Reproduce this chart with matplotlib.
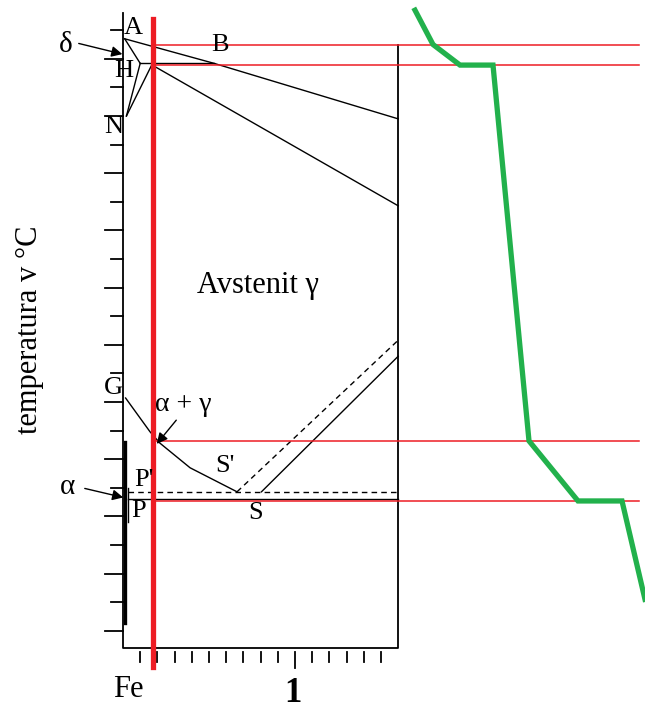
# Fe-C diagram (steel corner) with cooling curve
import matplotlib.pyplot as plt

plt.rcParams['font.family'] = ['Liberation Serif', 'DejaVu Serif']

# ------ phase diagram lines, x = wt% C, y = temperature [deg C] ------
liq_c = [0.01, 0.53, 1.6]            # A - B - (towards C)
liq_t = [1535, 1492, 1395]
ah_c = [0.01, 0.10]                   # A - H
ah_t = [1535, 1492]
hn_c = [0.10, 0.02]                   # H - N
hn_t = [1492, 1400]
jn_c = [0.17, 0.02]                   # J - N
jn_t = [1491, 1400]
hjb_c = [0.10, 0.53]                  # peritectic line
hjb_t = [1492, 1492]
je_c = [0.17, 1.6]                    # solidus J - E
je_t = [1489, 1243]
gs_c = [0.015, 0.157, 0.215, 0.39, 0.663]   # G - S'
gs_t = [907, 848, 828, 785, 743]
pk_dash_c = [0.03, 1.6]               # P' S' K (stable)
pk_dash_t = [743, 743]
pk_c = [0.03, 1.6]                    # P S K
pk_t = [731, 731]
se_c = [0.805, 1.6]                   # S - E
se_t = [743, 980]
se_dash_c = [0.663, 1.6]              # S' - E'
se_dash_t = [743, 1008]
alpha_c = [0.012, 0.012]              # ferrite region along axis
alpha_t = [830, 514]
pp_c = [0.03, 0.03]
pp_t = [750, 690]

# frame of the diagram
frame_c = [0.0, 0.0, 1.6, 1.6]
frame_t = [1580, 470, 470, 1524]

ytick_t = list(range(500, 1600, 50))
xtick_c = [0.1 * i for i in range(1, 16)]

# ------ analysed alloy and its critical temperatures ------
alloy_c = 0.177
alloy_t = [1570, 437]
crit_t = [1525, 1489, 832, 727]
red_right = 3.0

# ------ cooling curve, x = time (arb. units) ------
time = [0.6, 1.32, 2.4, 3.72, 5.16, 7.12, 8.88, 9.8]
cool_t = [1585, 1525, 1489, 1489, 832, 727, 727, 555]

RED = '#ed1c24'
GREEN = '#22b14c'

fig = plt.figure(figsize=(6.45, 7.11), dpi=100)
ax = fig.add_axes([0, 0, 1, 1])
ax.set_xlim(-0.7151, 3.0349)
ax.set_ylim(359.8, 1602.8)
ax.axis('off')

lw = 1.0
ax.plot(frame_c, frame_t, color='k', lw=1.3)
for xs, ys in [(liq_c, liq_t), (ah_c, ah_t), (hn_c, hn_t), (jn_c, jn_t),
               (hjb_c, hjb_t), (je_c, je_t), (gs_c, gs_t), (pk_c, pk_t),
               (se_c, se_t), (pp_c, pp_t)]:
    ax.plot(xs, ys, color='k', lw=lw)
for xs, ys in [(pk_dash_c, pk_dash_t), (se_dash_c, se_dash_t)]:
    ax.plot(xs, ys, color='k', lw=lw, linestyle=(0, (4, 3)))
ax.plot(alpha_c, alpha_t, color='k', lw=2.4)

# ticks
for t in ytick_t:
    ln = 0.105 if t % 100 == 0 else 0.07
    ax.plot([-ln, 0], [t, t], color='k', lw=1.3)
for c in xtick_c:
    bottom = 435 if abs(c - 1.0) < 1e-6 else 445
    ax.plot([c, c], [463, bottom], color='k', lw=1.3)

# red lines
for t in crit_t:
    ax.plot([alloy_c, red_right], [t, t], color=RED, lw=1.1)
ax.plot([alloy_c, alloy_c], alloy_t, color=RED, lw=3.8)

# cooling curve
ax2 = ax.twiny()
ax2.set_xlim(-16, 9.8)
ax2.axis('off')
ax2.plot(time, cool_t, color=GREEN, lw=3.8, solid_joinstyle='miter')

# labels
fs = 19
ax.text(0.058, 1554, 'A', fontsize=fs, ha='center', va='center')
ax.text(0.564, 1524, 'B', fontsize=fs, ha='center', va='center')
ax.text(0.006, 1478, 'H', fontsize=fs, ha='center', va='center')
ax.text(-0.052, 1381, 'N', fontsize=fs, ha='center', va='center')
ax.text(-0.058, 924, 'G', fontsize=fs, ha='center', va='center')
ax.text(0.12, 764, "P'", fontsize=fs, ha='center', va='center')
ax.text(0.09, 709, 'P', fontsize=fs, ha='center', va='center')
ax.text(0.593, 788, "S'", fontsize=fs, ha='center', va='center')
ax.text(0.773, 706, 'S', fontsize=fs, ha='center', va='center')
ax.text(-0.331, 1524, 'δ', fontsize=21, ha='center', va='center')
ax.text(-0.32, 751, 'α', fontsize=21, ha='center', va='center')
ax.text(0.349, 895, 'α + γ', fontsize=20, ha='center', va='center')
ax.text(0.785, 1104, 'Avstenit γ', fontsize=22, ha='center', va='center')
ax.text(-0.541, 1026, 'temperatura v °C', fontsize=22, rotation=90,
        ha='center', va='center')
ax.text(0.029, 397, 'Fe', fontsize=22, ha='center', va='center')
ax.text(0.988, 391, '1', fontsize=25, fontweight='bold', ha='center', va='center')

arrow = dict(arrowstyle='-|>', color='k', lw=1.0, mutation_scale=16)
ax.annotate('', xy=(0.012, 1507), xytext=(-0.273, 1528), arrowprops=arrow)
ax.annotate('', xy=(0.017, 732), xytext=(-0.238, 750), arrowprops=arrow)
ax.annotate('', xy=(0.186, 823), xytext=(0.32, 872), arrowprops=arrow)

plt.savefig('out.png', dpi=100)
